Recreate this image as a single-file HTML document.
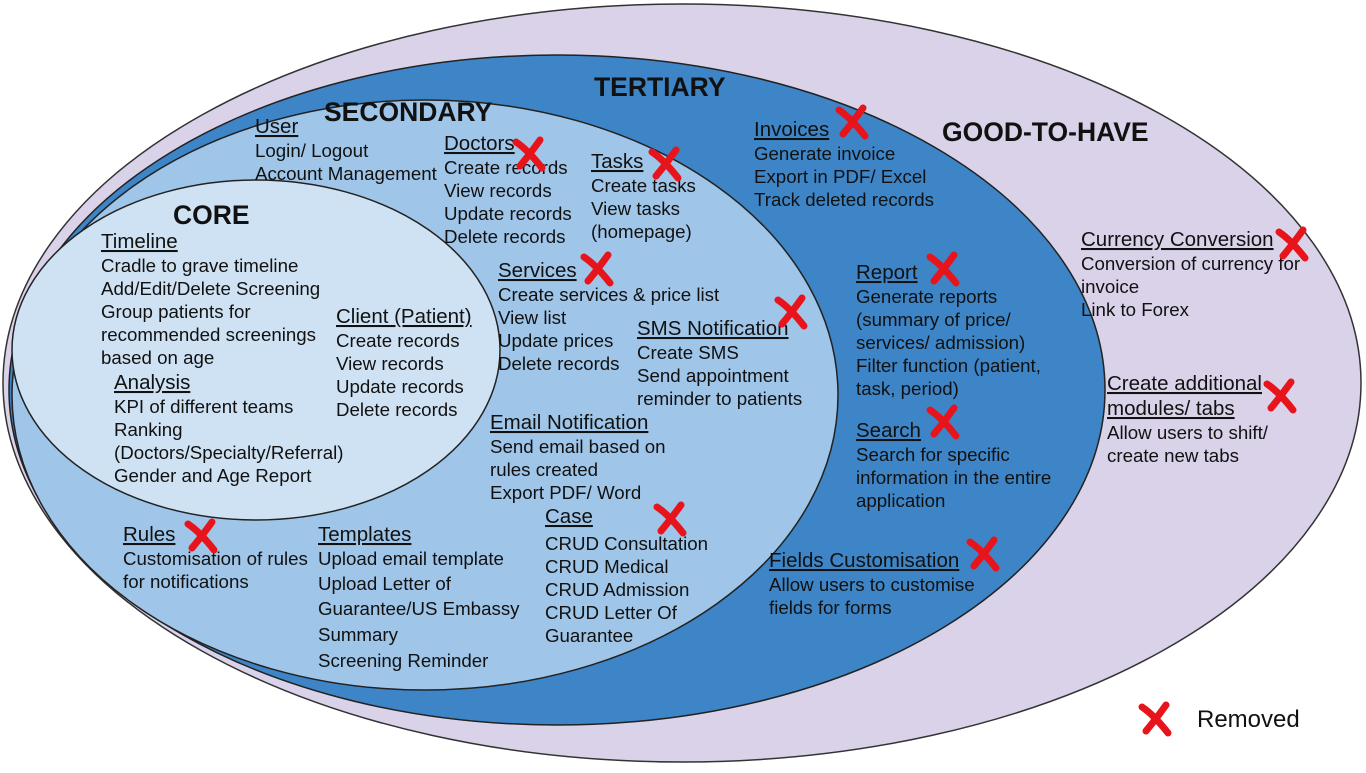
<!DOCTYPE html>
<html><head><meta charset="utf-8"><style>
body{margin:0;background:#fff}
svg text{font-family:"Liberation Sans",Arial,sans-serif;font-size:18.7px;fill:#111}
.h{font-size:26.5px;font-weight:bold}
.u{text-decoration:underline;font-size:20.5px}
</style></head><body>
<svg width="1366" height="768" viewBox="0 0 1366 768" xmlns="http://www.w3.org/2000/svg">
<defs>
<g id="x"><path d="M2 4 Q14 12 28 30" stroke="#e8141b" stroke-width="7" fill="none" stroke-linecap="round"/><path d="M26 2 Q16 16 6 28" stroke="#e8141b" stroke-width="7" fill="none" stroke-linecap="round"/></g>
</defs>
<ellipse cx="682" cy="383" rx="679" ry="379" fill="#d9d2e9" stroke="#333" stroke-width="1.5"/>
<ellipse cx="557" cy="390" rx="548" ry="335" fill="#3d85c6" stroke="#222" stroke-width="1.5"/>
<ellipse cx="425" cy="395" rx="413" ry="295" fill="#9fc5e8" stroke="#222" stroke-width="1.5"/>
<ellipse cx="256" cy="350" rx="244" ry="170" fill="#cfe2f3" stroke="#222" stroke-width="1.5"/>

<text class="h" x="594" y="96">TERTIARY</text>
<text class="h" x="324" y="121">SECONDARY</text>
<text class="h" x="173" y="224">CORE</text>
<text class="h" x="942" y="141">GOOD-TO-HAVE</text>

<text class="u" x="255" y="133">User</text>
<text x="255" y="157">Login/ Logout</text>
<text x="255" y="180">Account Management</text>

<text class="u" x="444" y="150">Doctors</text>
<text x="444" y="174">Create records</text>
<text x="444" y="197">View records</text>
<text x="444" y="220">Update records</text>
<text x="444" y="243">Delete records</text>
<use href="#x" x="514" y="138"/>

<text class="u" x="591" y="168">Tasks</text>
<text x="591" y="192">Create tasks</text>
<text x="591" y="215">View tasks</text>
<text x="591" y="238">(homepage)</text>
<use href="#x" x="650" y="148"/>

<text class="u" x="101" y="248">Timeline</text>
<text x="101" y="272">Cradle to grave timeline</text>
<text x="101" y="295">Add/Edit/Delete Screening</text>
<text x="101" y="318">Group patients for</text>
<text x="101" y="341">recommended screenings</text>
<text x="101" y="364">based on age</text>

<text class="u" x="336" y="323">Client (Patient)</text>
<text x="336" y="347">Create records</text>
<text x="336" y="370">View records</text>
<text x="336" y="393">Update records</text>
<text x="336" y="416">Delete records</text>

<text class="u" x="114" y="389">Analysis</text>
<text x="114" y="413">KPI of different teams</text>
<text x="114" y="436">Ranking</text>
<text x="114" y="459">(Doctors/Specialty/Referral)</text>
<text x="114" y="482">Gender and Age Report</text>

<text class="u" x="498" y="277">Services</text>
<text x="498" y="301">Create services &amp; price list</text>
<text x="498" y="324">View list</text>
<text x="498" y="347">Update prices</text>
<text x="498" y="370">Delete records</text>
<use href="#x" x="582" y="253"/>

<text class="u" x="637" y="335">SMS Notification</text>
<text x="637" y="359">Create SMS</text>
<text x="637" y="382">Send appointment</text>
<text x="637" y="405">reminder to patients</text>
<use href="#x" x="776" y="296"/>

<text class="u" x="490" y="429">Email Notification</text>
<text x="490" y="453">Send email based on</text>
<text x="490" y="476">rules created</text>
<text x="490" y="499">Export PDF/ Word</text>

<text class="u" x="545" y="523">Case</text>
<text x="545" y="550">CRUD Consultation</text>
<text x="545" y="573">CRUD Medical</text>
<text x="545" y="596">CRUD Admission</text>
<text x="545" y="619">CRUD Letter Of</text>
<text x="545" y="642">Guarantee</text>
<use href="#x" x="655" y="503"/>

<text class="u" x="123" y="541">Rules</text>
<text x="123" y="565">Customisation of rules</text>
<text x="123" y="588">for notifications</text>
<use href="#x" x="186" y="520"/>

<text class="u" x="318" y="541">Templates</text>
<text x="318" y="565">Upload email template</text>
<text x="318" y="590">Upload Letter of</text>
<text x="318" y="615">Guarantee/US Embassy</text>
<text x="318" y="641">Summary</text>
<text x="318" y="667">Screening Reminder</text>

<text class="u" x="754" y="136">Invoices</text>
<text x="754" y="160">Generate invoice</text>
<text x="754" y="183">Export in PDF/ Excel</text>
<text x="754" y="206">Track deleted records</text>
<use href="#x" x="837" y="106"/>

<text class="u" x="856" y="279">Report</text>
<text x="856" y="303">Generate reports</text>
<text x="856" y="326">(summary of price/</text>
<text x="856" y="349">services/ admission)</text>
<text x="856" y="372">Filter function (patient,</text>
<text x="856" y="395">task, period)</text>
<use href="#x" x="928" y="253"/>

<text class="u" x="856" y="437">Search</text>
<text x="856" y="461">Search for specific</text>
<text x="856" y="484">information in the entire</text>
<text x="856" y="507">application</text>
<use href="#x" x="928" y="406"/>

<text class="u" x="769" y="567">Fields Customisation</text>
<text x="769" y="591">Allow users to customise</text>
<text x="769" y="614">fields for forms</text>
<use href="#x" x="968" y="538"/>

<text class="u" x="1081" y="246">Currency Conversion</text>
<text x="1081" y="270">Conversion of currency for</text>
<text x="1081" y="293">invoice</text>
<text x="1081" y="316">Link to Forex</text>
<use href="#x" x="1277" y="228"/>

<text class="u" x="1107" y="390">Create additional</text>
<text class="u" x="1107" y="415">modules/ tabs</text>
<text x="1107" y="439">Allow users to shift/</text>
<text x="1107" y="462">create new tabs</text>
<use href="#x" x="1265" y="380"/>

<use href="#x" x="1140" y="703"/>
<text x="1197" y="727" style="font-size:24px">Removed</text>
</svg>
</body></html>
